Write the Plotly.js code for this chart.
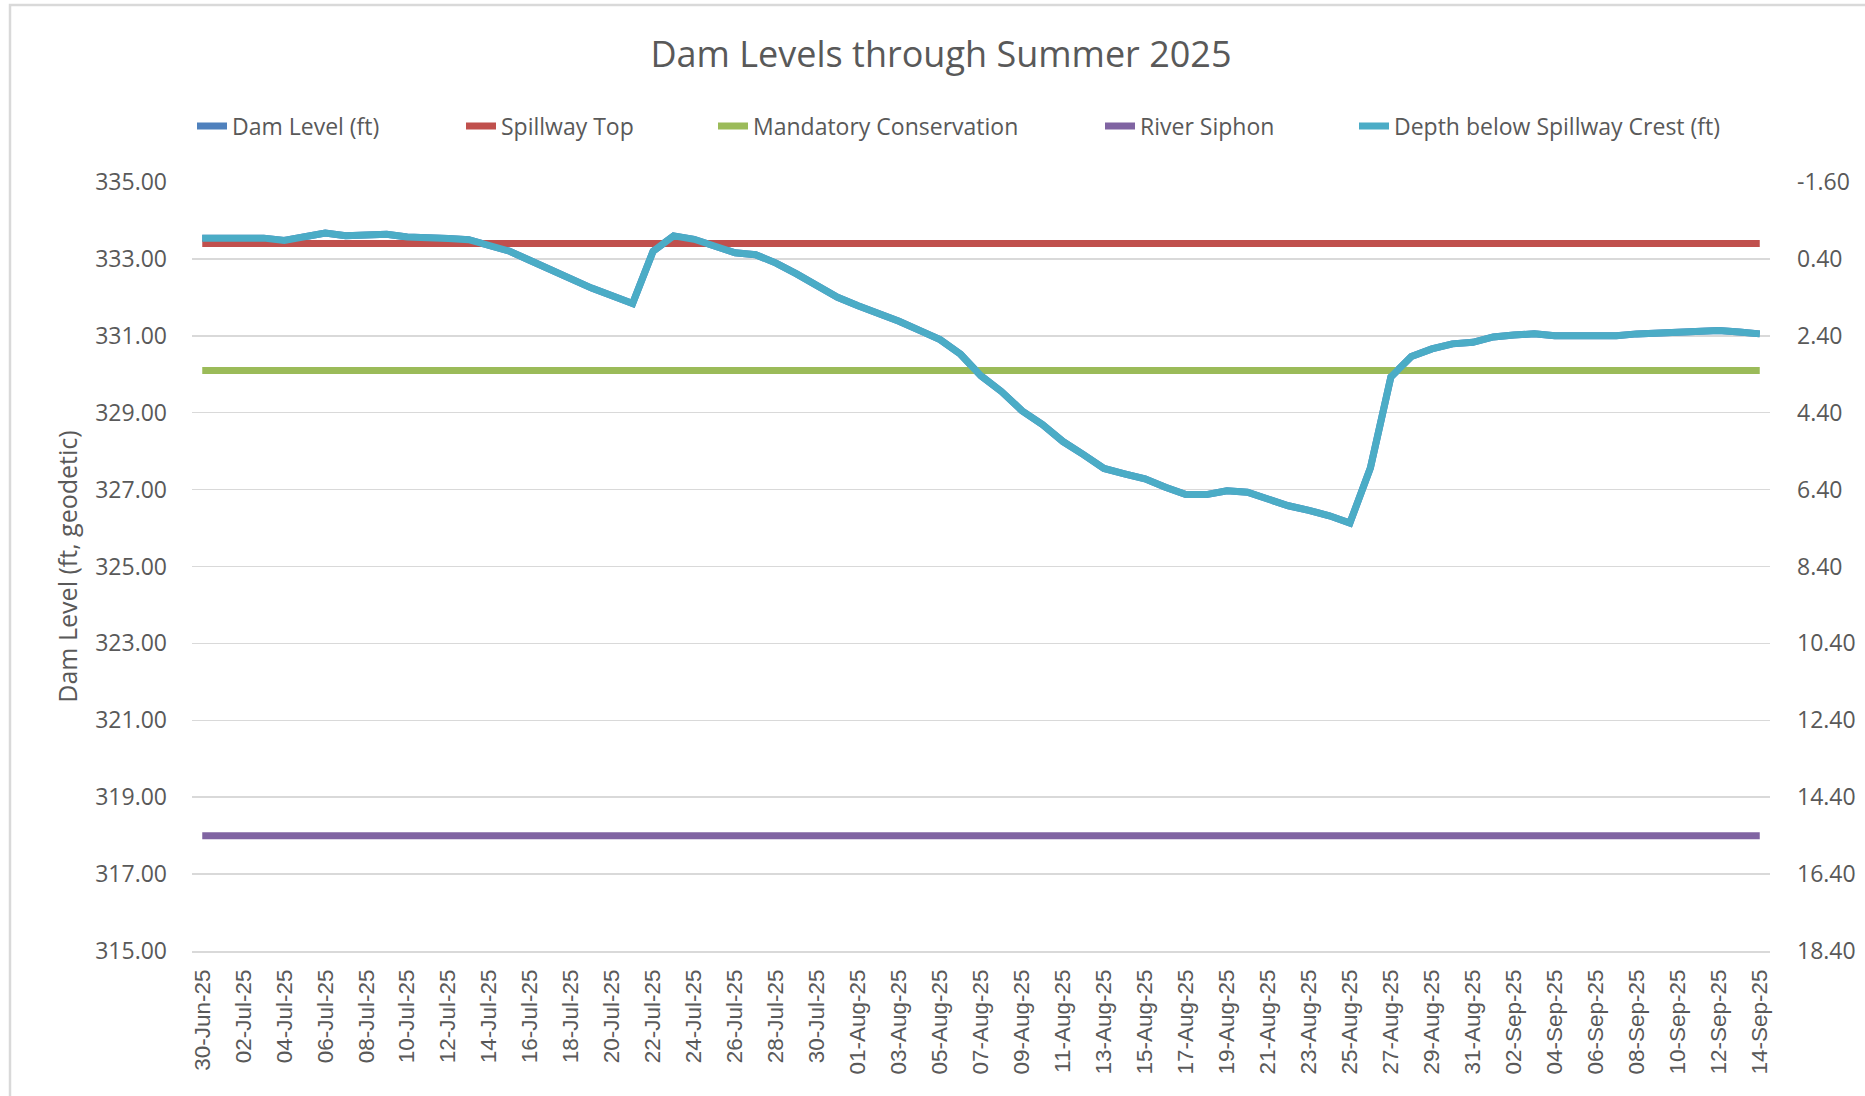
<!DOCTYPE html>
<html>
<head>
<meta charset="utf-8">
<script src="https://cdn.plot.ly/plotly-3.0.1.min.js"></script>
<style>
  html, body { margin: 0; padding: 0; background: #ffffff; }
  #chart { width: 1865px; height: 1096px; }
</style>
</head>
<body>
<div id="chart"></div>
<script>
const dates = [
  "30-Jun-25",
  "01-Jul-25","02-Jul-25","03-Jul-25","04-Jul-25","05-Jul-25","06-Jul-25","07-Jul-25","08-Jul-25","09-Jul-25","10-Jul-25",
  "11-Jul-25","12-Jul-25","13-Jul-25","14-Jul-25","15-Jul-25","16-Jul-25","17-Jul-25","18-Jul-25","19-Jul-25","20-Jul-25",
  "21-Jul-25","22-Jul-25","23-Jul-25","24-Jul-25","25-Jul-25","26-Jul-25","27-Jul-25","28-Jul-25","29-Jul-25","30-Jul-25","31-Jul-25",
  "01-Aug-25","02-Aug-25","03-Aug-25","04-Aug-25","05-Aug-25","06-Aug-25","07-Aug-25","08-Aug-25","09-Aug-25","10-Aug-25",
  "11-Aug-25","12-Aug-25","13-Aug-25","14-Aug-25","15-Aug-25","16-Aug-25","17-Aug-25","18-Aug-25","19-Aug-25","20-Aug-25",
  "21-Aug-25","22-Aug-25","23-Aug-25","24-Aug-25","25-Aug-25","26-Aug-25","27-Aug-25","28-Aug-25","29-Aug-25","30-Aug-25","31-Aug-25",
  "01-Sep-25","02-Sep-25","03-Sep-25","04-Sep-25","05-Sep-25","06-Sep-25","07-Sep-25","08-Sep-25","09-Sep-25","10-Sep-25",
  "11-Sep-25","12-Sep-25","13-Sep-25","14-Sep-25"
];

const damLevel = [
  333.54,
  333.54,333.55,333.54,333.48,333.57,333.67,333.60,333.60,333.64,333.57,
  333.57,333.53,333.50,333.37,333.20,332.96,332.72,332.44,332.24,332.04,
  331.84,333.20,333.60,333.51,333.34,333.16,333.11,332.89,332.61,332.30,332.00,
  331.78,331.60,331.38,331.14,330.90,330.52,329.96,329.55,329.05,328.69,
  328.25,327.91,327.55,327.41,327.28,327.06,326.87,326.87,326.97,326.93,
  326.76,326.58,326.46,326.32,326.13,327.56,329.93,330.46,330.66,330.79,330.83,
  330.97,331.02,331.05,331.00,331.00,331.03,331.00,331.05,331.07,331.11,
  331.11,331.14,331.10,331.05
];

const depthBelowCrest = [
  -0.14,
  -0.14,-0.15,-0.14,-0.08,-0.17,-0.27,-0.20,-0.20,-0.24,-0.17,
  -0.17,-0.13,-0.10,0.03,0.20,0.44,0.68,0.96,1.16,1.36,
  1.56,0.20,-0.20,-0.11,0.06,0.24,0.29,0.51,0.79,1.10,1.40,
  1.62,1.80,2.02,2.26,2.50,2.88,3.44,3.85,4.35,4.71,
  5.15,5.49,5.85,5.99,6.12,6.34,6.53,6.53,6.43,6.47,
  6.64,6.82,6.94,7.08,7.27,5.84,3.47,2.94,2.74,2.61,2.57,
  2.43,2.38,2.35,2.40,2.40,2.37,2.40,2.35,2.33,2.29,
  2.29,2.26,2.30,2.35
];

const spillwayTop = [333.40, 333.40];
const mandatoryConservation = [330.10, 330.10];
const riverSiphon = [318.00, 318.00];
const constantX = [dates[0], dates[dates.length - 1]];

const leftTickVals = [315, 317, 319, 321, 323, 325, 327, 329, 331, 333, 335];
const rightTickVals = [-1.6, 0.4, 2.4, 4.4, 6.4, 8.4, 10.4, 12.4, 14.4, 16.4, 18.4];
const rightTickText = ["-1.60", "0.40", "2.40", "4.40", "6.40", "8.40", "10.40", "12.40", "14.40", "16.40", "18.40"];
const xTickVals = dates.filter((d, i) => i % 2 === 0);

const seriesNames = ["Dam Level (ft)", "Spillway Top", "Mandatory Conservation", "River Siphon", "Depth below Spillway Crest (ft)"];
const seriesColors = ["#4F81BD", "#C0504D", "#9BBB59", "#8064A2", "#4BACC6"];

const LW = 7;
const traces = [
  { x: dates, y: damLevel, name: seriesNames[0], type: "scatter", mode: "lines",
    line: { color: seriesColors[0], width: LW }, yaxis: "y", legend: "legend" },
  { x: constantX, y: spillwayTop, name: seriesNames[1], type: "scatter", mode: "lines",
    line: { color: seriesColors[1], width: LW }, yaxis: "y", legend: "legend2" },
  { x: constantX, y: mandatoryConservation, name: seriesNames[2], type: "scatter", mode: "lines",
    line: { color: seriesColors[2], width: LW }, yaxis: "y", legend: "legend3" },
  { x: constantX, y: riverSiphon, name: seriesNames[3], type: "scatter", mode: "lines",
    line: { color: seriesColors[3], width: LW }, yaxis: "y", legend: "legend4" },
  { x: dates, y: depthBelowCrest, name: seriesNames[4], type: "scatter", mode: "lines",
    line: { color: seriesColors[4], width: LW }, yaxis: "y2", legend: "legend5" }
];

const plotL = 192, plotR = 1770, plotT = 182, plotB = 951;
const pw = plotR - plotL, ph = plotB - plotT;
const px2x = p => (p - plotL) / pw;
const py2y = p => (plotB - p) / ph;

const legendFont = { family: "Open Sans, sans-serif", size: 23, color: "#595959" };
const textStarts = [232, 501, 753, 1140, 1394];
function mkLegend(i) {
  return {
    orientation: "h", x: px2x(textStarts[i] - 40), xanchor: "left",
    y: py2y(126), yanchor: "middle",
    font: legendFont, bgcolor: "rgba(0,0,0,0)", borderwidth: 0,
    itemclick: false, itemdoubleclick: false
  };
}

const layout = {
  width: 1865, height: 1096,
  margin: { l: plotL, r: 1865 - plotR, t: plotT, b: 1096 - plotB, pad: 0 },
  paper_bgcolor: "#ffffff", plot_bgcolor: "#ffffff",
  title: {
    text: "Dam Levels through Summer 2025",
    font: { family: "Open Sans, sans-serif", size: 36, color: "#595959" },
    xref: "container", x: 941 / 1865, xanchor: "center",
    yref: "container", y: 1 - 54 / 1096, yanchor: "middle"
  },
  showlegend: true,
  legend: mkLegend(0), legend2: mkLegend(1), legend3: mkLegend(2), legend4: mkLegend(3), legend5: mkLegend(4),
  xaxis: {
    type: "category", categoryorder: "array", categoryarray: dates,
    range: [-0.5, dates.length - 0.5],
    tickmode: "array", tickvals: xTickVals, ticktext: xTickVals,
    tickangle: -90, ticks: "", showgrid: false, zeroline: false,
    showline: true, linecolor: "#D9D9D9", linewidth: 1.5,
    ticklabelstandoff: 8,
    tickfont: { family: "Liberation Sans, Arial, sans-serif", size: 22.5, color: "#595959" }
  },
  yaxis: {
    range: [315, 335], tickmode: "array", tickvals: leftTickVals, tickformat: ".2f",
    ticks: "", showgrid: true, gridcolor: "#D9D9D9", gridwidth: 1.5,
    zeroline: false, showline: false, ticklabelstandoff: 24,
    tickfont: { family: "Open Sans, sans-serif", size: 23, color: "#595959" },
    title: { text: "Dam Level (ft, geodetic)", standoff: 10,
      font: { family: "Open Sans, sans-serif", size: 25, color: "#595959" } }
  },
  yaxis2: {
    overlaying: "y", side: "right", range: [18.4, -1.6],
    tickmode: "array", tickvals: rightTickVals, ticktext: rightTickText,
    ticks: "", showgrid: false, zeroline: false, showline: false, ticklabelstandoff: 26,
    tickfont: { family: "Open Sans, sans-serif", size: 23, color: "#595959" }
  },
  shapes: [{
    type: "rect", xref: "paper", yref: "paper", layer: "below",
    x0: px2x(10), x1: px2x(1900), y0: py2y(1120), y1: py2y(5),
    line: { color: "#D9D9D9", width: 2.5 }, fillcolor: "rgba(0,0,0,0)"
  }]
};

Plotly.newPlot("chart", traces, layout, { displayModeBar: false, staticPlot: true });
</script>
</body>
</html>
